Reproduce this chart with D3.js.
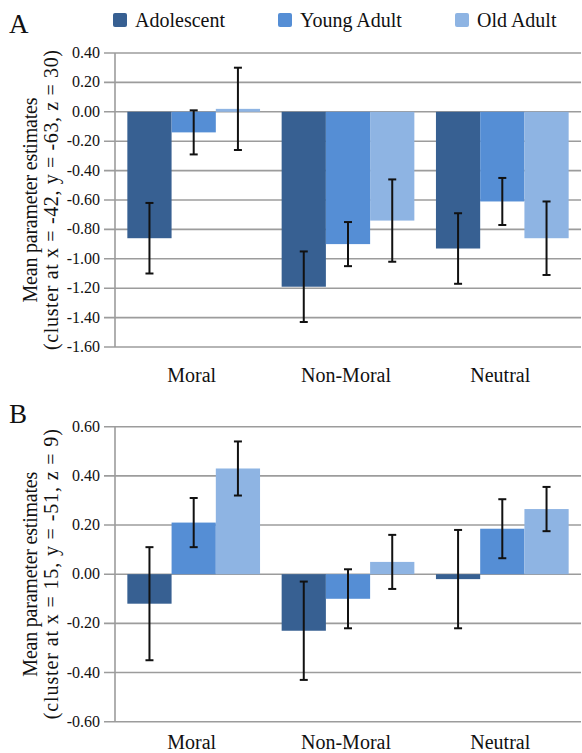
<!DOCTYPE html>
<html>
<head>
<meta charset="utf-8">
<script src="https://cdn.jsdelivr.net/npm/d3@7"></script>
<style>
  body { margin: 0; background: #fff; }
</style>
</head>
<body>
<div id="chart"></div>
<script>
// categories and groups
var categories = ["Moral", "Non-Moral", "Neutral"];
var groups = ["Adolescent", "Young Adult", "Old Adult"];
var colors = ["#376092", "#558ED5", "#8EB4E3"];

// panel A values (per group, in category order)
var meanA_Adolescent = [-0.86, -1.19, -0.93];
var meanA_Young = [-0.14, -0.90, -0.61];
var meanA_Old = [0.02, -0.74, -0.86];
var errA_Adolescent = [0.24, 0.24, 0.24];
var errA_Young = [0.15, 0.15, 0.16];
var errA_Old = [0.28, 0.28, 0.25];
var ticksA = [0.4, 0.2, 0.0, -0.2, -0.4, -0.6, -0.8, -1.0, -1.2, -1.4, -1.6];

// panel B values
var meanB_Adolescent = [-0.12, -0.23, -0.02];
var meanB_Young = [0.21, -0.10, 0.185];
var meanB_Old = [0.43, 0.05, 0.265];
var errB_Adolescent = [0.23, 0.20, 0.20];
var errB_Young = [0.10, 0.12, 0.12];
var errB_Old = [0.11, 0.11, 0.09];
var ticksB = [0.6, 0.4, 0.2, 0.0, -0.2, -0.4, -0.6];

var serif = "'Liberation Serif', Tinos, 'Times New Roman', 'DejaVu Serif', serif";

var svg = d3.select("#chart").append("svg")
  .attr("width", 582)
  .attr("height", 753)
  .attr("font-family", serif);

// legend
var legendX = [113, 278, 455];
groups.forEach(function(g, i) {
  svg.append("rect").attr("x", legendX[i]).attr("y", 13).attr("width", 14).attr("height", 14)
    .attr("rx", 2).style("fill", colors[i]);
  svg.append("text").attr("x", legendX[i] + 22).attr("y", 27)
    .attr("font-family", serif).attr("font-size", 20).attr("fill", "#111").text(g);
});

function panel(opt) {
  var y = d3.scaleLinear().domain(opt.domain).range(opt.range);
  var x0 = d3.scaleBand().domain(categories).range([115, 581]).paddingInner(0.14).paddingOuter(0.08);
  var x1 = d3.scaleBand().domain(groups).range([0, x0.bandwidth()]);
  var g = svg.append("g").attr("font-family", serif).attr("fill", "#111");

  // gridlines
  g.selectAll(".grid").data(opt.ticks).enter().append("line")
    .attr("x1", 104).attr("x2", 581)
    .attr("y1", function(d) { return y(d); }).attr("y2", function(d) { return y(d); })
    .style("stroke", "#9c9c9c").style("stroke-width", 1.6);

  // y axis line
  g.append("line").attr("x1", 115).attr("x2", 115)
    .attr("y1", y(opt.domain[1])).attr("y2", y(opt.domain[0]))
    .style("stroke", "#9c9c9c").style("stroke-width", 1.6);

  // tick labels
  g.selectAll(".tl").data(opt.ticks).enter().append("text")
    .attr("x", 100).attr("y", function(d) { return y(d) + 5; })
    .attr("text-anchor", "end").attr("font-size", 16)
    .text(function(d) { return d3.format(".2f")(d).replace("−", "-"); });

  var rows = [];
  categories.forEach(function(c, ci) {
    groups.forEach(function(s, si) {
      rows.push({ cat: c, grp: s, i: si, v: opt.means[si][ci], e: opt.errs[si][ci] });
    });
  });

  // bars
  g.selectAll(".bar").data(rows).enter().append("rect")
    .attr("x", function(d) { return x0(d.cat) + x1(d.grp); })
    .attr("width", x1.bandwidth())
    .attr("y", function(d) { return y(Math.max(0, d.v)); })
    .attr("height", function(d) { return Math.abs(y(d.v) - y(0)); })
    .style("fill", function(d) { return colors[d.i]; });

  // error bars
  var eb = g.selectAll(".err").data(rows).enter().append("g")
    .attr("transform", function(d) { return "translate(" + (x0(d.cat) + x1(d.grp) + x1.bandwidth() / 2) + ",0)"; });
  eb.append("line").attr("x1", 0).attr("x2", 0)
    .attr("y1", function(d) { return y(d.v + d.e); }).attr("y2", function(d) { return y(d.v - d.e); })
    .style("stroke", "#111").style("stroke-width", 2);
  eb.append("line").attr("x1", -4).attr("x2", 4)
    .attr("y1", function(d) { return y(d.v + d.e); }).attr("y2", function(d) { return y(d.v + d.e); })
    .style("stroke", "#111").style("stroke-width", 2);
  eb.append("line").attr("x1", -4).attr("x2", 4)
    .attr("y1", function(d) { return y(d.v - d.e); }).attr("y2", function(d) { return y(d.v - d.e); })
    .style("stroke", "#111").style("stroke-width", 2);

  // category labels
  g.selectAll(".cl").data(categories).enter().append("text")
    .attr("x", function(d) { return x0(d) + x0.bandwidth() / 2 - 2; })
    .attr("y", opt.labelY)
    .attr("text-anchor", "middle").attr("font-size", 20)
    .text(function(d) { return d; });

  // y title
  var cy = (opt.range[0] + opt.range[1]) / 2;
  g.append("text").attr("transform", "translate(37," + cy + ") rotate(-90)")
    .attr("text-anchor", "middle").attr("font-size", 20)
    .attr("textLength", opt.len1).attr("lengthAdjust", "spacing")
    .text("Mean parameter estimates");
  g.append("text").attr("transform", "translate(58," + cy + ") rotate(-90)")
    .attr("text-anchor", "middle").attr("font-size", 20)
    .attr("textLength", opt.len2).attr("lengthAdjust", "spacing")
    .text(opt.title2);

  // panel letter
  svg.append("text").attr("x", 9).attr("y", opt.letterY)
    .attr("font-family", serif).attr("font-size", 27).attr("fill", "#111").text(opt.letter);
}

panel({
  domain: [-1.6, 0.4], range: [347, 53], ticks: ticksA,
  means: [meanA_Adolescent, meanA_Young, meanA_Old],
  errs: [errA_Adolescent, errA_Young, errA_Old],
  labelY: 382, letter: "A", letterY: 33,
  title2: "(cluster at x = -42, y = -63, z = 30)", len1: 205, len2: 300
});

panel({
  domain: [-0.6, 0.6], range: [721.7, 426.7], ticks: ticksB,
  means: [meanB_Adolescent, meanB_Young, meanB_Old],
  errs: [errB_Adolescent, errB_Young, errB_Old],
  labelY: 749, letter: "B", letterY: 423,
  title2: "(cluster at x = 15, y = -51, z = 9)", len1: 205, len2: 290
});
</script>
</body>
</html>
